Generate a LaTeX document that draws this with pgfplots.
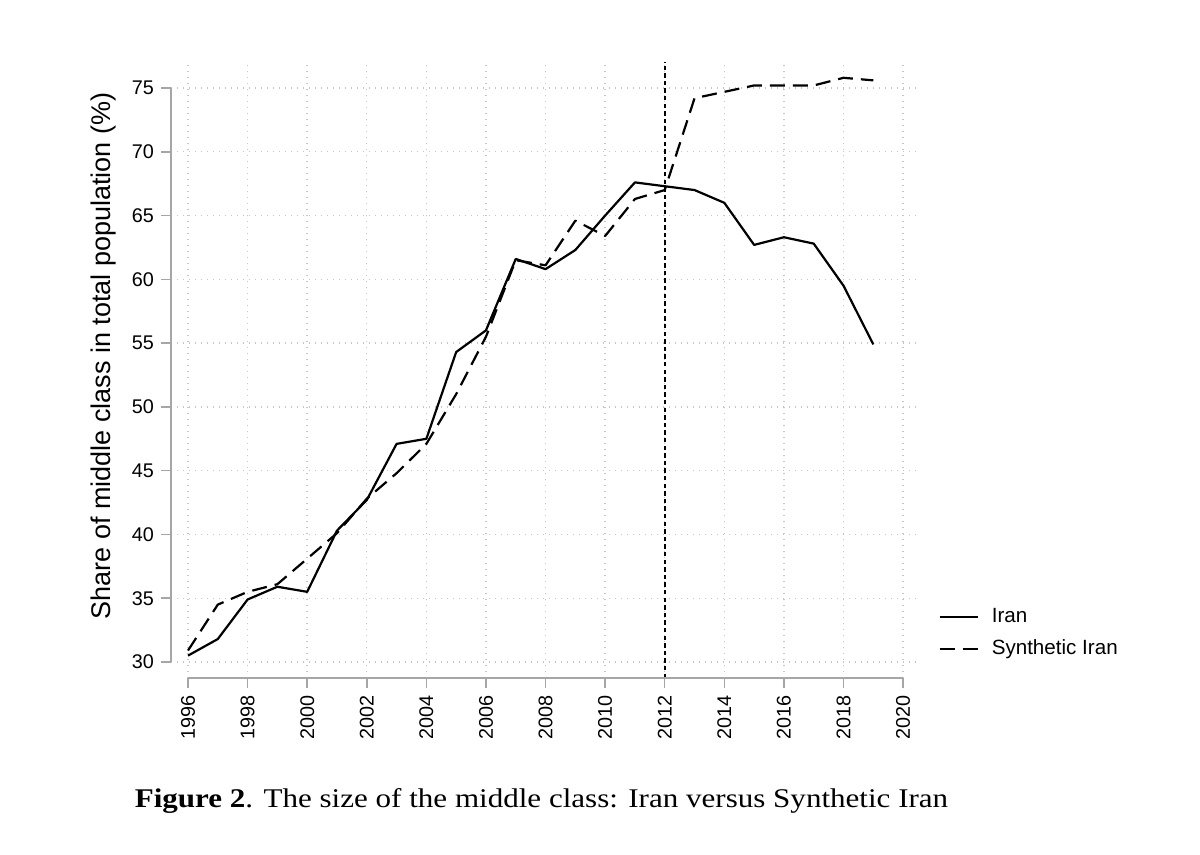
\documentclass[border=0pt]{standalone}
\usepackage{fontspec}
\setmainfont{Liberation Sans}
\newfontfamily\capfont[FakeStretch=1.15]{Liberation Serif}
\usepackage{pgfplots}
\pgfplotsset{compat=1.18}
\begin{document}
\begin{tikzpicture}
\useasboundingbox (-85.5pt,-88.5pt) rectangle ++(600pt,427.5pt);
\begin{axis}[
  scale only axis, width=373.5pt, height=308pt,
  xmin=1995.429, xmax=2020.50, ymin=28.746, ymax=77.04,
  clip=false,
  axis line style={draw=none},
  xtick={1996,1998,...,2020}, ytick={30,35,...,75},
  /pgf/number format/1000 sep={},
  /pgf/number format/assume math mode=true,
  tick align=outside, major tick length=5pt,
  tick style={gray!70, line width=0.75pt},
  xtick pos=bottom, ytick pos=left,
  xticklabel style={rotate=90, anchor=east, font=\fontsize{9.9}{11}\selectfont, xshift=0pt, yshift=0pt},
  yticklabel style={font=\fontsize{9.9}{11}\selectfont},
  grid=major,
  major grid style={gray!45, line width=0.7pt, dash pattern=on 0.7pt off 2.3pt},
  ylabel={Share of middle class in total population (\%)},
  ylabel style={at={(axis description cs:-0.090,0.523)}, anchor=center, font=\fontsize{13.5}{16}\selectfont},
  legend style={draw=none, fill=none, at={(axis description cs:1.027,0.073)}, anchor=west,
    font=\fontsize{10.3}{12}\selectfont, row sep=3pt, inner sep=0pt, cells={anchor=west},
    /tikz/every odd column/.append style={column sep=4.5pt}},
  legend image code/.code={\draw[#1] (0pt,0pt) -- (19pt,0pt);},
]
\addplot[black, line width=1.1pt, line join=round] coordinates {
(1996,30.5) (1997,31.8) (1998,34.9) (1999,35.9) (2000,35.5) (2001,40.3)
(2002,42.7) (2003,47.1) (2004,47.5) (2005,54.3) (2006,56.0) (2007,61.6)
(2008,60.8) (2009,62.3) (2010,65.0) (2011,67.6) (2012,67.3) (2013,67.0)
(2014,66.0) (2015,62.7) (2016,63.3) (2017,62.8) (2018,59.5) (2019,54.9)};
\addlegendentry{Iran}
\addplot[black, line width=1.1pt, line join=round, dash pattern=on 7.5pt off 4pt] coordinates {
(1996,30.9) (1997,34.5) (1998,35.5) (1999,36.1) (2000,38.1) (2001,40.1)
(2002,42.8) (2003,44.8) (2004,47.1) (2005,51.0) (2006,55.5) (2007,61.5)
(2008,61.1) (2009,64.6) (2010,63.4) (2011,66.3) (2012,67.0) (2013,74.2)
(2014,74.7) (2015,75.2) (2016,75.2) (2017,75.2) (2018,75.8) (2019,75.6)};
\addlegendentry{Synthetic Iran}
\addplot[black, line width=1pt, dash pattern=on 2.2pt off 1.6pt, forget plot] coordinates {(2012,28.746) (2012,77.04)};
\draw[gray!70, line width=0.75pt] (axis cs:1995.429,30) -- (axis cs:1995.429,75);
\draw[gray!70, line width=0.75pt] (axis cs:1996,28.746) -- (axis cs:2020,28.746);
\node[anchor=base, font=\capfont\fontsize{13.5}{16}\selectfont] at (axis description cs:0.496,-0.211)
  {\textbf{Figure 2}. The size of the middle class: Iran versus Synthetic Iran};
\end{axis}
\end{tikzpicture}
\end{document}
